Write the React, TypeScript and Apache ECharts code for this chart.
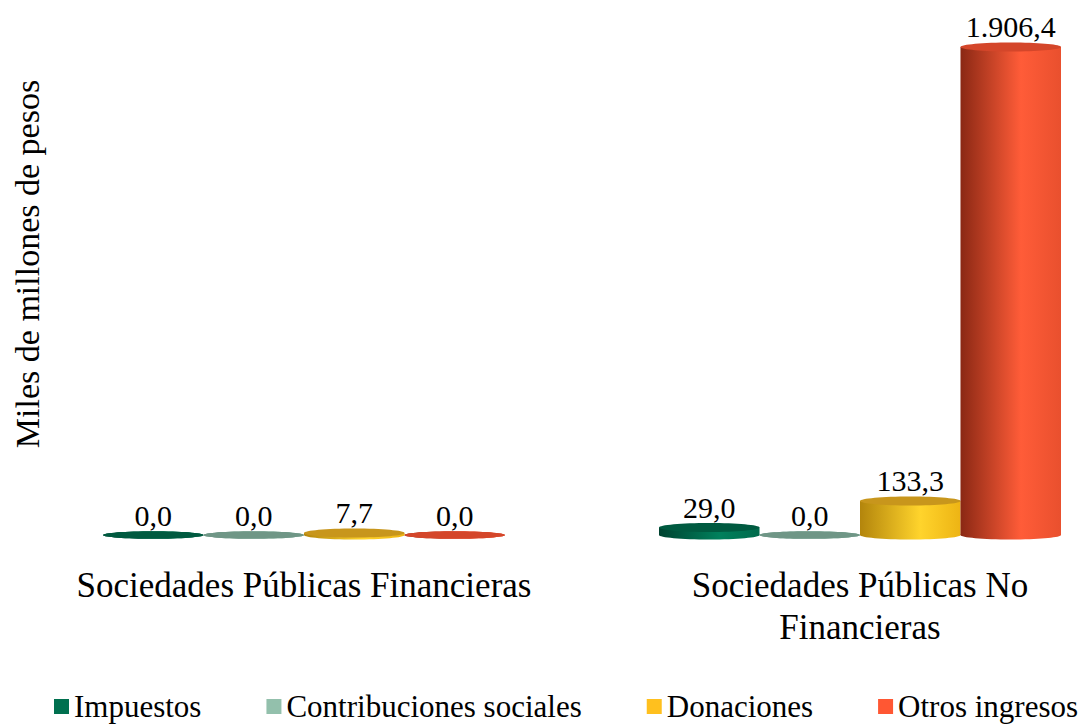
import React, { useEffect, useRef } from "react";
import * as echarts from "echarts";

const categories = ["Sociedades Públicas Financieras", "Sociedades Públicas No\nFinancieras"];
const seriesNames = ["Impuestos", "Contribuciones sociales", "Donaciones", "Otros ingresos"];
const impuestos = [0.0, 29.0];
const contribuciones = [0.0, 0.0];
const donaciones = [7.7, 133.3];
const otros = [0.0, 1906.4];
const seriesValues = [impuestos, contribuciones, donaciones, otros];

const legendColors = ["#00704F", "#93C0AC", "#FFC01E", "#FF5733"];
const bodyStops = [
  ["#004230", "#00805C", "#006A4C"],
  ["#5F8878", "#A5CFBE", "#85B3A1"],
  ["#B3850C", "#FFD42C", "#EDB414"],
  ["#8A2814", "#FF5C38", "#E9502E"],
];
const topColors = ["#005A40", "#6F9686", "#C8961C", "#D4462A"];

const FONT = "Liberation Serif";

function fmt(v: number): string {
  const s = v.toFixed(1);
  const [intPart, dec] = s.split(".");
  const withSep = intPart.replace(/\B(?=(\d{3})+(?!\d))/g, ".");
  return withSep + "," + dec;
}

export default function App() {
  const ref = useRef<HTMLDivElement>(null);
  useEffect(() => {
    if (!ref.current) return;
    const chart = echarts.init(ref.current, null, { renderer: "svg" });
    const BAR_FRACTION = 100.5 / 556;
    const series = seriesNames.map((name, si) => ({
      type: "custom",
      name,
      itemStyle: { color: legendColors[si] },
      data: seriesValues[si].map((v, ci) => [ci, v]),
      renderItem: (params: any, api: any) => {
        const ci = api.value(0);
        const val = api.value(1);
        const base = api.coord([ci, 0]);
        const top = api.coord([ci, val]);
        const band = api.size([1, 0])[0];
        const w = band * BAR_FRACTION;
        const cx = base[0] + (si - 1.5) * w;
        const rx = w / 2;
        const ry = val > 0 ? 4.5 : 3.8;
        const grad = new echarts.graphic.LinearGradient(0, 0, 1, 0, [
          { offset: 0, color: bodyStops[si][0] },
          { offset: 0.6, color: bodyStops[si][1] },
          { offset: 1, color: bodyStops[si][2] },
        ]);
        return {
          type: "group",
          children: [
            {
              type: "ellipse",
              shape: { cx, cy: base[1], rx, ry },
              style: { fill: grad },
            },
            {
              type: "rect",
              shape: { x: cx - rx, y: top[1], width: w, height: Math.max(0, base[1] - top[1]) },
              style: { fill: grad },
            },
            {
              type: "ellipse",
              shape: { cx, cy: top[1], rx, ry },
              style: { fill: topColors[si] },
            },
            {
              type: "text",
              x: cx,
              y: top[1] - ry - 1,
              style: {
                text: fmt(val),
                fontSize: 30,
                fontFamily: FONT,
                fill: "#000",
                align: "center",
                verticalAlign: "bottom",
              },
            },
          ],
        };
      },
    }));
    chart.setOption({
      animation: false,
      backgroundColor: "#ffffff",
      grid: { left: 26, right: 2, top: 23, bottom: 189, containLabel: false },
      xAxis: {
        type: "category",
        data: categories,
        axisLine: { show: false },
        axisTick: { show: false },
        splitLine: { show: false },
        axisLabel: {
          interval: 0,
          margin: 29,
          fontSize: 35,
          lineHeight: 42,
          fontFamily: FONT,
          color: "#000",
        },
      },
      yAxis: {
        type: "value",
        min: 0,
        max: 2000,
        show: false,
      },
      legend: {
        data: seriesNames,
        left: 49,
        top: 686,
        icon: "rect",
        itemWidth: 15,
        itemHeight: 15,
        itemGap: 65,
        textStyle: { fontSize: 31, lineHeight: 31, fontFamily: FONT, color: "#000" },
      },
      graphic: [
        {
          type: "text",
          x: 27,
          y: 264,
          rotation: Math.PI / 2,
          style: {
            text: "Miles de millones de pesos",
            fontSize: 34,
            fontFamily: FONT,
            fill: "#000",
            align: "center",
            verticalAlign: "middle",
          },
        },
      ],
      series,
    });
    return () => chart.dispose();
  }, []);
  return (
    <div style={{ position: "fixed", left: 0, top: 0, width: 1083, height: 724, overflow: "hidden" }}>
      <div ref={ref} style={{ width: 1140, height: 724 }} />
    </div>
  );
}
